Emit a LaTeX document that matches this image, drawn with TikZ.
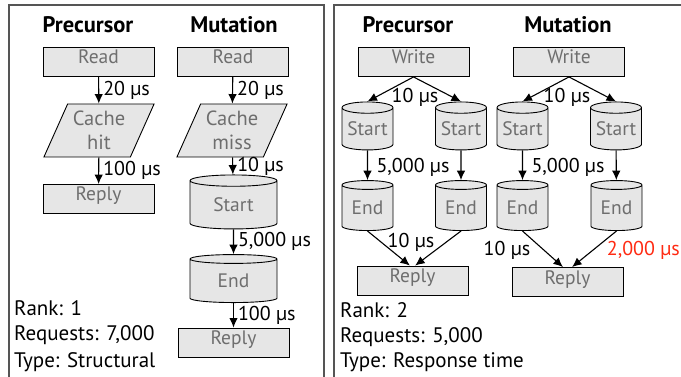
\documentclass[tikz,border=0pt]{standalone}
\usepackage{fontspec}
\setmainfont{PT Sans}
\usetikzlibrary{shapes.geometric,arrows.meta}
\definecolor{boxfill}{HTML}{E6E6E6}
\definecolor{boxtext}{HTML}{6E6E6E}
\definecolor{slowred}{HTML}{FF2A12}
\definecolor{framegray}{HTML}{555555}
\tikzstyle{link} = [line width=1.1pt,-{Latex[length=9.5pt,width=8.5pt]}]
\tikzstyle{stage} = [draw,line width=0.9pt,fill=boxfill,text=boxtext,inner sep=0pt,font=\fontsize{19.5}{23}\selectfont]
\tikzstyle{op} = [stage,rectangle,minimum width=111,minimum height=29,text height=14pt,text depth=10pt]
\tikzstyle{cache} = [stage,trapezium,trapezium left angle=63,trapezium right angle=117,trapezium stretches=true,minimum width=111,minimum height=53,align=center,font=\fontsize{20.5}{24}\selectfont]
\tikzstyle{disk} = [stage,cylinder,shape border rotate=90,aspect=0.28,minimum width=87,minimum height=54]
\tikzstyle{smalldisk} = [disk,minimum width=51,minimum height=48]
\tikzstyle{head} = [font=\fontsize{22.5}{26}\selectfont\bfseries]
\tikzstyle{lat} = [font=\fontsize{20}{24}\selectfont,inner sep=0pt]
\tikzstyle{info} = [font=\fontsize{21}{25}\selectfont,anchor=west,inner sep=0pt]

\begin{document}
\begin{tikzpicture}[x=1pt,y=-1pt]
\useasboundingbox (0,0) rectangle (681,377);
\clip (0,0) rectangle (681,377);

% panel frames
\draw[framegray,line width=1.2pt] (9,380) -- (9,5) -- (324,5) -- (324,380);
\draw[framegray,line width=1.2pt] (334,380) -- (334,5) -- (690,5);

% left panel: rank 1
\node[head] (tP1) at (88,25) {Precursor};
\node[head] (tM1) at (234,25) {Mutation};

\node[op] (readP) at (98.5,61.5) {Read};
\node[cache] (hitP) at (99,130.5) {Cache\\hit};
\node[op] (replyP1) at (98.5,199) {Reply};
\draw[link] (readP) -- (hitP) node[lat,anchor=west,pos=0.5,xshift=4] {20 µs};
\draw[link] (hitP) -- (replyP1) node[lat,anchor=west,pos=0.5,xshift=4] {100 µs};

\node[op] (readM) at (233,61.5) {Read};
\node[cache] (missM) at (232,130.5) {Cache\\miss};
\node[disk] (startM) at (233.5,205) {Start};
\node[disk,minimum height=48] (endM) at (233.5,281) {End};
\node[op] (replyM1) at (233.5,342.5) {Reply};
\draw[link] (readM) -- (missM) node[lat,anchor=west,pos=0.5,xshift=4] {20 µs};
\draw[link] (missM) -- (startM) node[lat,anchor=west,pos=0.5,xshift=4] {10 µs};
\draw[link] (startM) -- (endM) node[lat,anchor=west,pos=0.5,xshift=4] {5,000 µs};
\draw[link] (endM) -- (replyM1) node[lat,anchor=west,pos=0.5,xshift=4] {100 µs};

\node[info] (rank1) at (14,308) {Rank: 1};
\node[info] (req1) at (14,335) {Requests: 7,000};
\node[info] (type1) at (14,362) {Type: Structural};

% right panel: rank 2
\node[head] (tP2) at (408,25) {Precursor};
\node[head] (tM2) at (568,25) {Mutation};

\node[op] (writeP) at (413.5,62) {Write};
\node[smalldisk] (startP1) at (367.5,129) {Start};
\node[smalldisk] (startP2) at (461,129) {Start};
\node[smalldisk,minimum height=50] (endP1) at (367.5,208) {End};
\node[smalldisk,minimum height=50] (endP2) at (461,208) {End};
\node[op] (replyP2) at (412.5,280.5) {Reply};
\draw[link] (writeP.south) -- (startP1.north);
\draw[link] (writeP.south) -- (startP2.north);
\draw[link] (startP1) -- (endP1);
\draw[link] (startP2) -- (endP2);
\draw[link] (endP1.south) -- (replyP2.100);
\draw[link] (endP2.south) -- (replyP2.80);
\node[lat] (wP) at (415,97) {10 µs};
\node[lat] (sP) at (413,167) {5,000 µs};
\node[lat] (eP) at (411,242) {10 µs};

\node[op] (writeM) at (569,62) {Write};
\node[smalldisk] (startM1) at (522.5,129) {Start};
\node[smalldisk] (startM2) at (616,129) {Start};
\node[smalldisk,minimum height=50] (endM1) at (522.5,208) {End};
\node[smalldisk,minimum height=50] (endM2) at (616.5,208) {End};
\node[op] (replyM2) at (567.5,282) {Reply};
\draw[link] (writeM.south) -- (startM1.north);
\draw[link] (writeM.south) -- (startM2.north);
\draw[link] (startM1) -- (endM1);
\draw[link] (startM2) -- (endM2);
\draw[link] (endM1.south) -- (replyM2.107);
\draw[link] (endM2.south) -- (replyM2.73);
\node[lat] (wM) at (567,97) {10 µs};
\node[lat] (sM) at (568,167) {5,000 µs};
\node[lat] (eM) at (507,250) {10 µs};
\node[lat,text=slowred,anchor=east] (slow) at (680,250) {2,000 µs};

\node[info] (rank2) at (340,310) {Rank: 2};
\node[info] (req2) at (340,337) {Requests: 5,000};
\node[info] (type2) at (340,362) {Type: Response time};
\end{tikzpicture}
\end{document}
